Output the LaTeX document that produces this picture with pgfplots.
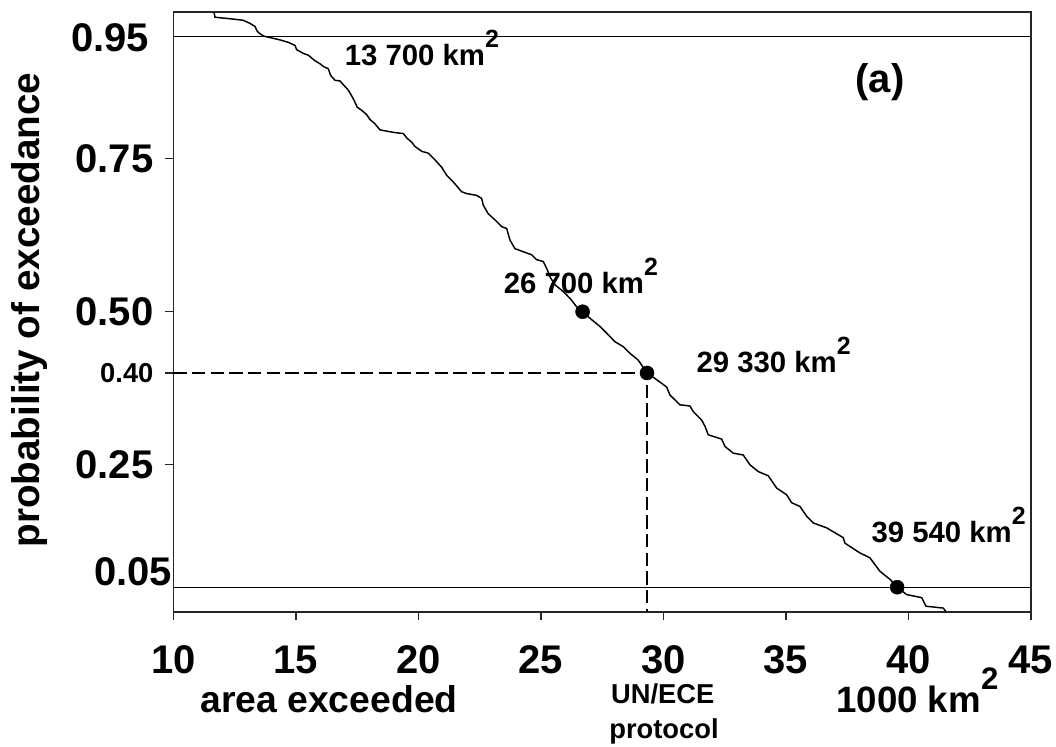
\documentclass[border=0pt]{standalone}
\usepackage{fontspec}
\setmainfont{Liberation Sans}
\usepackage{pgfplots}
\pgfplotsset{compat=1.18}

% raised exponent for km^2
\newcommand{\sq}{\raisebox{0.62em}{\scalebox{0.85}{2}}}

\begin{document}
\begin{tikzpicture}
\useasboundingbox (0,0) rectangle (792pt,559.5pt);
\begin{axis}[
  at={(130.1pt,100.7pt)}, anchor=south west,
  width=643.1pt, height=450pt, scale only axis,
  clip=false,
  xmin=10, xmax=45, ymin=0.01, ymax=0.99,
  xtick={10,15,20,25,30,35,40,45},
  xticklabels={10,15,20,25,30,35,40,45},
  ytick={0.25,0.5,0.75},
  yticklabels={0.25,0.50,0.75},
  extra y ticks={0.4},
  extra y tick labels={0.40},
  extra y tick style={yticklabel style={font=\fontsize{20.5}{20.5}\selectfont\bfseries}},
  tick align=outside, xtick pos=bottom, ytick pos=left,
  major tick length=6pt,
  axis line style={line width=1.2pt, draw=black!85},
  every tick/.style={line width=1pt, black!85},
  ticklabel style={font=\fontsize{30}{30}\selectfont\bfseries},
  xticklabel style={yshift=-16pt},
  yticklabel style={xshift=-5.5pt},
]
% reference levels
\addplot[black, line width=1pt] coordinates {(10,0.95) (45,0.95)};
\addplot[black, line width=1pt] coordinates {(10,0.05) (45,0.05)};
\addplot[black, line width=0.9pt, dash pattern=on 10pt off 4pt]
  coordinates {(10,0.40) (29.33,0.40) (29.33,0.01)};

% empirical exceedance curve
\addplot[black, line width=1.1pt] coordinates {
(11.653,0.990) (11.694,0.981) (12.441,0.978) (12.849,0.976) (13.122,0.971)
(13.327,0.966) (13.420,0.958) (13.531,0.954) (13.700,0.950) (14.347,0.944)
(14.686,0.940) (14.959,0.935) (15.029,0.928) (15.298,0.922) (15.502,0.919)
(15.776,0.910) (15.980,0.905) (16.143,0.900) (16.318,0.897) (16.416,0.886)
(16.592,0.878) (16.796,0.877) (17.135,0.862) (17.339,0.848) (17.502,0.834)
(17.682,0.829) (17.886,0.822) (18.020,0.814) (18.224,0.807) (18.429,0.797)
(18.971,0.793) (19.380,0.791) (19.543,0.783) (19.722,0.777) (19.857,0.770)
(20.131,0.762) (20.400,0.759) (20.604,0.751) (20.743,0.745) (20.947,0.736)
(21.151,0.723) (21.420,0.712) (21.763,0.696) (21.967,0.693) (22.376,0.690)
(22.580,0.685) (22.645,0.674) (22.849,0.660) (23.122,0.650) (23.396,0.639)
(23.600,0.636) (23.735,0.617) (23.939,0.603) (24.212,0.599) (24.620,0.593)
(24.824,0.585) (25.094,0.582) (25.233,0.571) (25.367,0.557) (25.571,0.544)
(25.910,0.533) (26.184,0.522) (26.457,0.508) (26.700,0.500) (27.069,0.487)
(27.408,0.476) (27.682,0.465) (28.020,0.451) (28.359,0.443) (28.633,0.432)
(28.971,0.421) (29.330,0.400) (29.722,0.389) (30.131,0.377) (30.265,0.364)
(30.673,0.348) (31.082,0.346) (31.216,0.337) (31.559,0.323) (31.694,0.313)
(31.829,0.299) (32.376,0.292) (32.510,0.280) (32.849,0.269) (33.257,0.266)
(33.531,0.250) (33.869,0.239) (34.278,0.232) (34.620,0.212) (35.029,0.201)
(35.233,0.188) (35.571,0.182) (35.845,0.166) (36.114,0.155) (36.661,0.147)
(37.339,0.131) (37.408,0.122) (38.020,0.106) (38.429,0.098) (38.837,0.076)
(39.245,0.063) (39.540,0.050) (39.927,0.038) (40.539,0.033) (40.714,0.019)
(41.420,0.016) (41.531,0.010)
};

% quantiles marked on the curve
\addplot[only marks, mark=*, mark size=5.25pt, black]
  coordinates {(26.70,0.50) (29.33,0.40) (39.54,0.05)};

\node[anchor=base west, font=\fontsize{22}{22}\selectfont\bfseries]
  at (axis cs:16.8,0.902) {13 700 km\sq};
\node[anchor=base west, font=\fontsize{22}{22}\selectfont\bfseries]
  at (axis cs:23.29,0.530) {26 700 km\sq};
\node[anchor=base west, font=\fontsize{22}{22}\selectfont\bfseries]
  at (axis cs:31.16,0.400) {29 330 km\sq};
\node[anchor=base west, font=\fontsize{22}{22}\selectfont\bfseries]
  at (axis cs:38.30,0.123) {39 540 km\sq};
\node[font=\fontsize{30}{30}\selectfont\bfseries]
  at (axis cs:38.84,0.8745) {(a)};

% labels of the two reference levels
\node[anchor=east, inner sep=0pt, font=\fontsize{30}{30}\selectfont\bfseries]
  at ([xshift=-18pt]axis cs:10,0.947) {0.95};
\node[anchor=south east, inner sep=0pt, font=\fontsize{30}{30}\selectfont\bfseries]
  at ([xshift=-1pt,yshift=1pt]axis cs:10,0.05) {0.05};
\end{axis}

\node[rotate=90, font=\fontsize{29}{29}\selectfont\bfseries]
  at (22.5pt,327pt) {probability of exceedance};
\node[anchor=base, inner sep=0pt, font=\fontsize{28}{28}\selectfont\bfseries]
  at (246.75pt,25pt) {area exceeded};
\node[anchor=base, inner sep=0pt, font=\fontsize{20.5}{20.5}\selectfont\bfseries]
  at (497pt,32pt) {UN/ECE};
\node[anchor=base, inner sep=0pt, font=\fontsize{20.5}{20.5}\selectfont\bfseries]
  at (498pt,6pt) {protocol};
\node[anchor=base west, inner sep=0pt, font=\fontsize{27.5}{27.5}\selectfont\bfseries]
  at (627pt,25pt) {1000 km\sq};
\end{tikzpicture}
\end{document}
